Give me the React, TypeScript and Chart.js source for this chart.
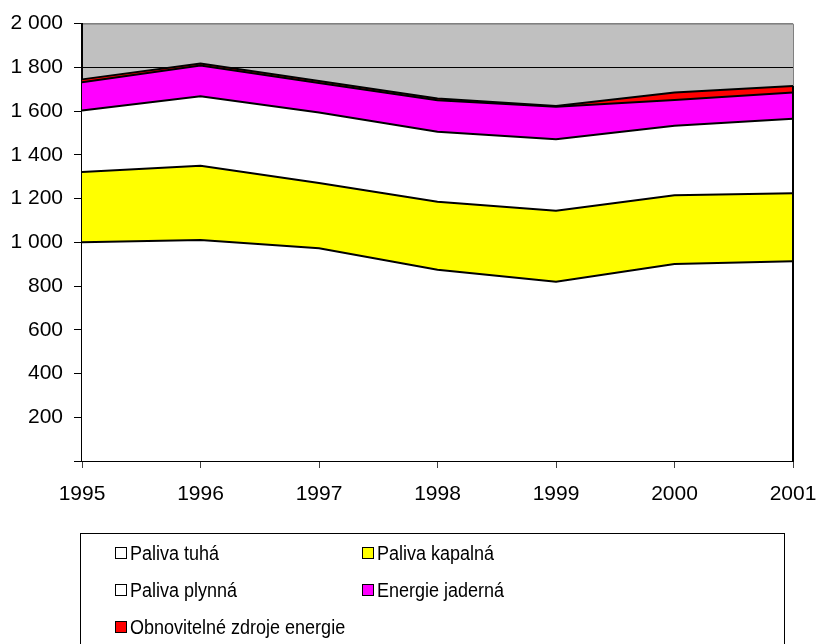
import React, { useEffect, useRef } from 'react';
import { Chart, registerables } from 'chart.js';

Chart.register(...registerables);

const years = ['1995', '1996', '1997', '1998', '1999', '2000', '2001'];
const palivaTuha = [1000, 1010, 973, 874, 820, 901, 913];
const palivaKapalna = [322, 340, 298, 311, 324, 314, 311];
const palivaPlynna = [281, 318, 323, 321, 327, 318, 341];
const energieJaderna = [129, 140, 134, 144, 149, 118, 120];
const obnovitelne = [13, 9, 10, 8, 3, 34, 30];

const seriesNames = ['Paliva tuhá', 'Paliva kapalná', 'Paliva plynná', 'Energie jaderná', 'Obnovitelné zdroje energie'];
const seriesColors = ['#FFFFFF', '#FFFF00', '#FFFFFF', '#FF00FF', '#FF0000'];
const seriesValues = [palivaTuha, palivaKapalna, palivaPlynna, energieJaderna, obnovitelne];

const yMin = 0;
const yMax = 2000;
const yStep = 200;

const FONT = "'Liberation Sans', Arial, sans-serif";

function formatTick(v: number): string {
  if (v === 0) return '';
  if (v >= 1000) {
    const th = Math.floor(v / 1000);
    const rest = String(v % 1000).padStart(3, '0');
    return th + ' ' + rest;
  }
  return String(v);
}

const plotPlugin = {
  id: 'plotPlugin',
  beforeDraw(chart: any) {
    const { ctx, chartArea: a } = chart;
    ctx.save();
    ctx.fillStyle = '#C0C0C0';
    ctx.fillRect(a.left, a.top, a.right - a.left, a.bottom - a.top);
    ctx.strokeStyle = '#808080';
    ctx.lineWidth = 1;
    ctx.beginPath();
    ctx.moveTo(a.left, a.top + 0.5);
    ctx.lineTo(a.right + 0.5, a.top + 0.5);
    ctx.lineTo(a.right + 0.5, a.bottom);
    ctx.stroke();
    ctx.restore();
  },
  afterDatasetsDraw(chart: any) {
    const { ctx } = chart;
    const xs = chart.scales.x;
    const ys = chart.scales.y;
    const last = years.length - 1;
    const total = seriesValues.reduce((s, arr) => s + arr[last], 0);
    const x = xs.getPixelForValue(last);
    ctx.save();
    ctx.strokeStyle = '#000';
    ctx.lineWidth = 2;
    ctx.beginPath();
    ctx.moveTo(x, ys.getPixelForValue(0));
    ctx.lineTo(x, ys.getPixelForValue(total));
    ctx.stroke();
    ctx.restore();
  },
};

export default function App() {
  const canvasRef = useRef<HTMLCanvasElement | null>(null);

  useEffect(() => {
    const canvas = canvasRef.current;
    if (!canvas) return;
    const chart = new Chart(canvas, {
      type: 'line',
      data: {
        labels: years,
        datasets: seriesValues.map((vals, i) => ({
          label: seriesNames[i],
          data: vals,
          backgroundColor: seriesColors[i],
          borderColor: '#000000',
          borderWidth: 2,
          fill: i === 0 ? 'origin' : '-1',
          pointRadius: 0,
          pointHoverRadius: 0,
          tension: 0,
        })),
      },
      options: {
        animation: false,
        responsive: false,
        maintainAspectRatio: false,
        devicePixelRatio: 1,
        layout: { padding: { left: 0, top: 21, right: 25, bottom: 123 } },
        plugins: {
          legend: { display: false },
          tooltip: { enabled: false },
          title: { display: false },
        },
        scales: {
          x: {
            type: 'category',
            offset: false,
            grid: {
              drawOnChartArea: false,
              drawTicks: true,
              tickLength: 7,
              color: '#000',
              tickColor: '#404040',
              offset: false,
            },
            border: { display: true, color: '#000', width: 2 },
            ticks: {
              color: '#000',
              font: { family: FONT, size: 21, lineHeight: 2.5 },
              padding: 0,
              maxRotation: 0,
              autoSkip: false,
            },
            afterFit: (s: any) => {
              s.height = 60;
            },
          },
          y: {
            stacked: true,
            min: yMin,
            max: yMax,
            ticks: {
              stepSize: yStep,
              color: '#000',
              font: { family: FONT, size: 21 },
              padding: 11,
              callback: (v: any) => formatTick(Number(v)),
            },
            grid: {
              color: (c: any) => (c.tick && c.tick.value === yMax ? '#808080' : '#000000'),
              tickColor: '#000',
              tickLength: 8,
              lineWidth: 1,
            },
            border: { display: true, color: '#000', width: 2 },
            afterFit: (s: any) => {
              s.width = 82;
            },
          },
        },
      },
      plugins: [plotPlugin],
    });
    return () => chart.destroy();
  }, []);

  const legendItems = seriesNames.map((name, i) => {
    const col = i % 2;
    const row = Math.floor(i / 2);
    return (
      <div
        key={name}
        style={{
          position: 'absolute',
          left: col === 0 ? 34 : 281,
          top: 8 + row * 37,
          height: 22,
          display: 'flex',
          alignItems: 'center',
          whiteSpace: 'nowrap',
        }}
      >
        <span
          style={{
            display: 'inline-block',
            width: 10,
            height: 10,
            border: '1px solid #000',
            background: seriesColors[i],
            marginRight: 3,
          }}
        />
        <span
          style={{
            display: 'inline-block',
            fontFamily: FONT,
            fontSize: 20,
            color: '#000',
            lineHeight: '22px',
            transform: 'scaleX(0.9)',
            transformOrigin: 'left center',
          }}
        >
          {name}
        </span>
      </div>
    );
  });

  return (
    <div style={{ position: 'fixed', left: 0, top: 0, width: 818, height: 644, background: '#fff', overflow: 'hidden' }}>
      <canvas ref={canvasRef} width={818} height={644} style={{ display: 'block', position: 'absolute', left: 0, top: 0 }} />
      <div
        style={{
          position: 'absolute',
          left: 80,
          top: 533,
          width: 705,
          height: 140,
          border: '1px solid #000',
          boxSizing: 'border-box',
        }}
      >
        {legendItems}
      </div>
    </div>
  );
}
